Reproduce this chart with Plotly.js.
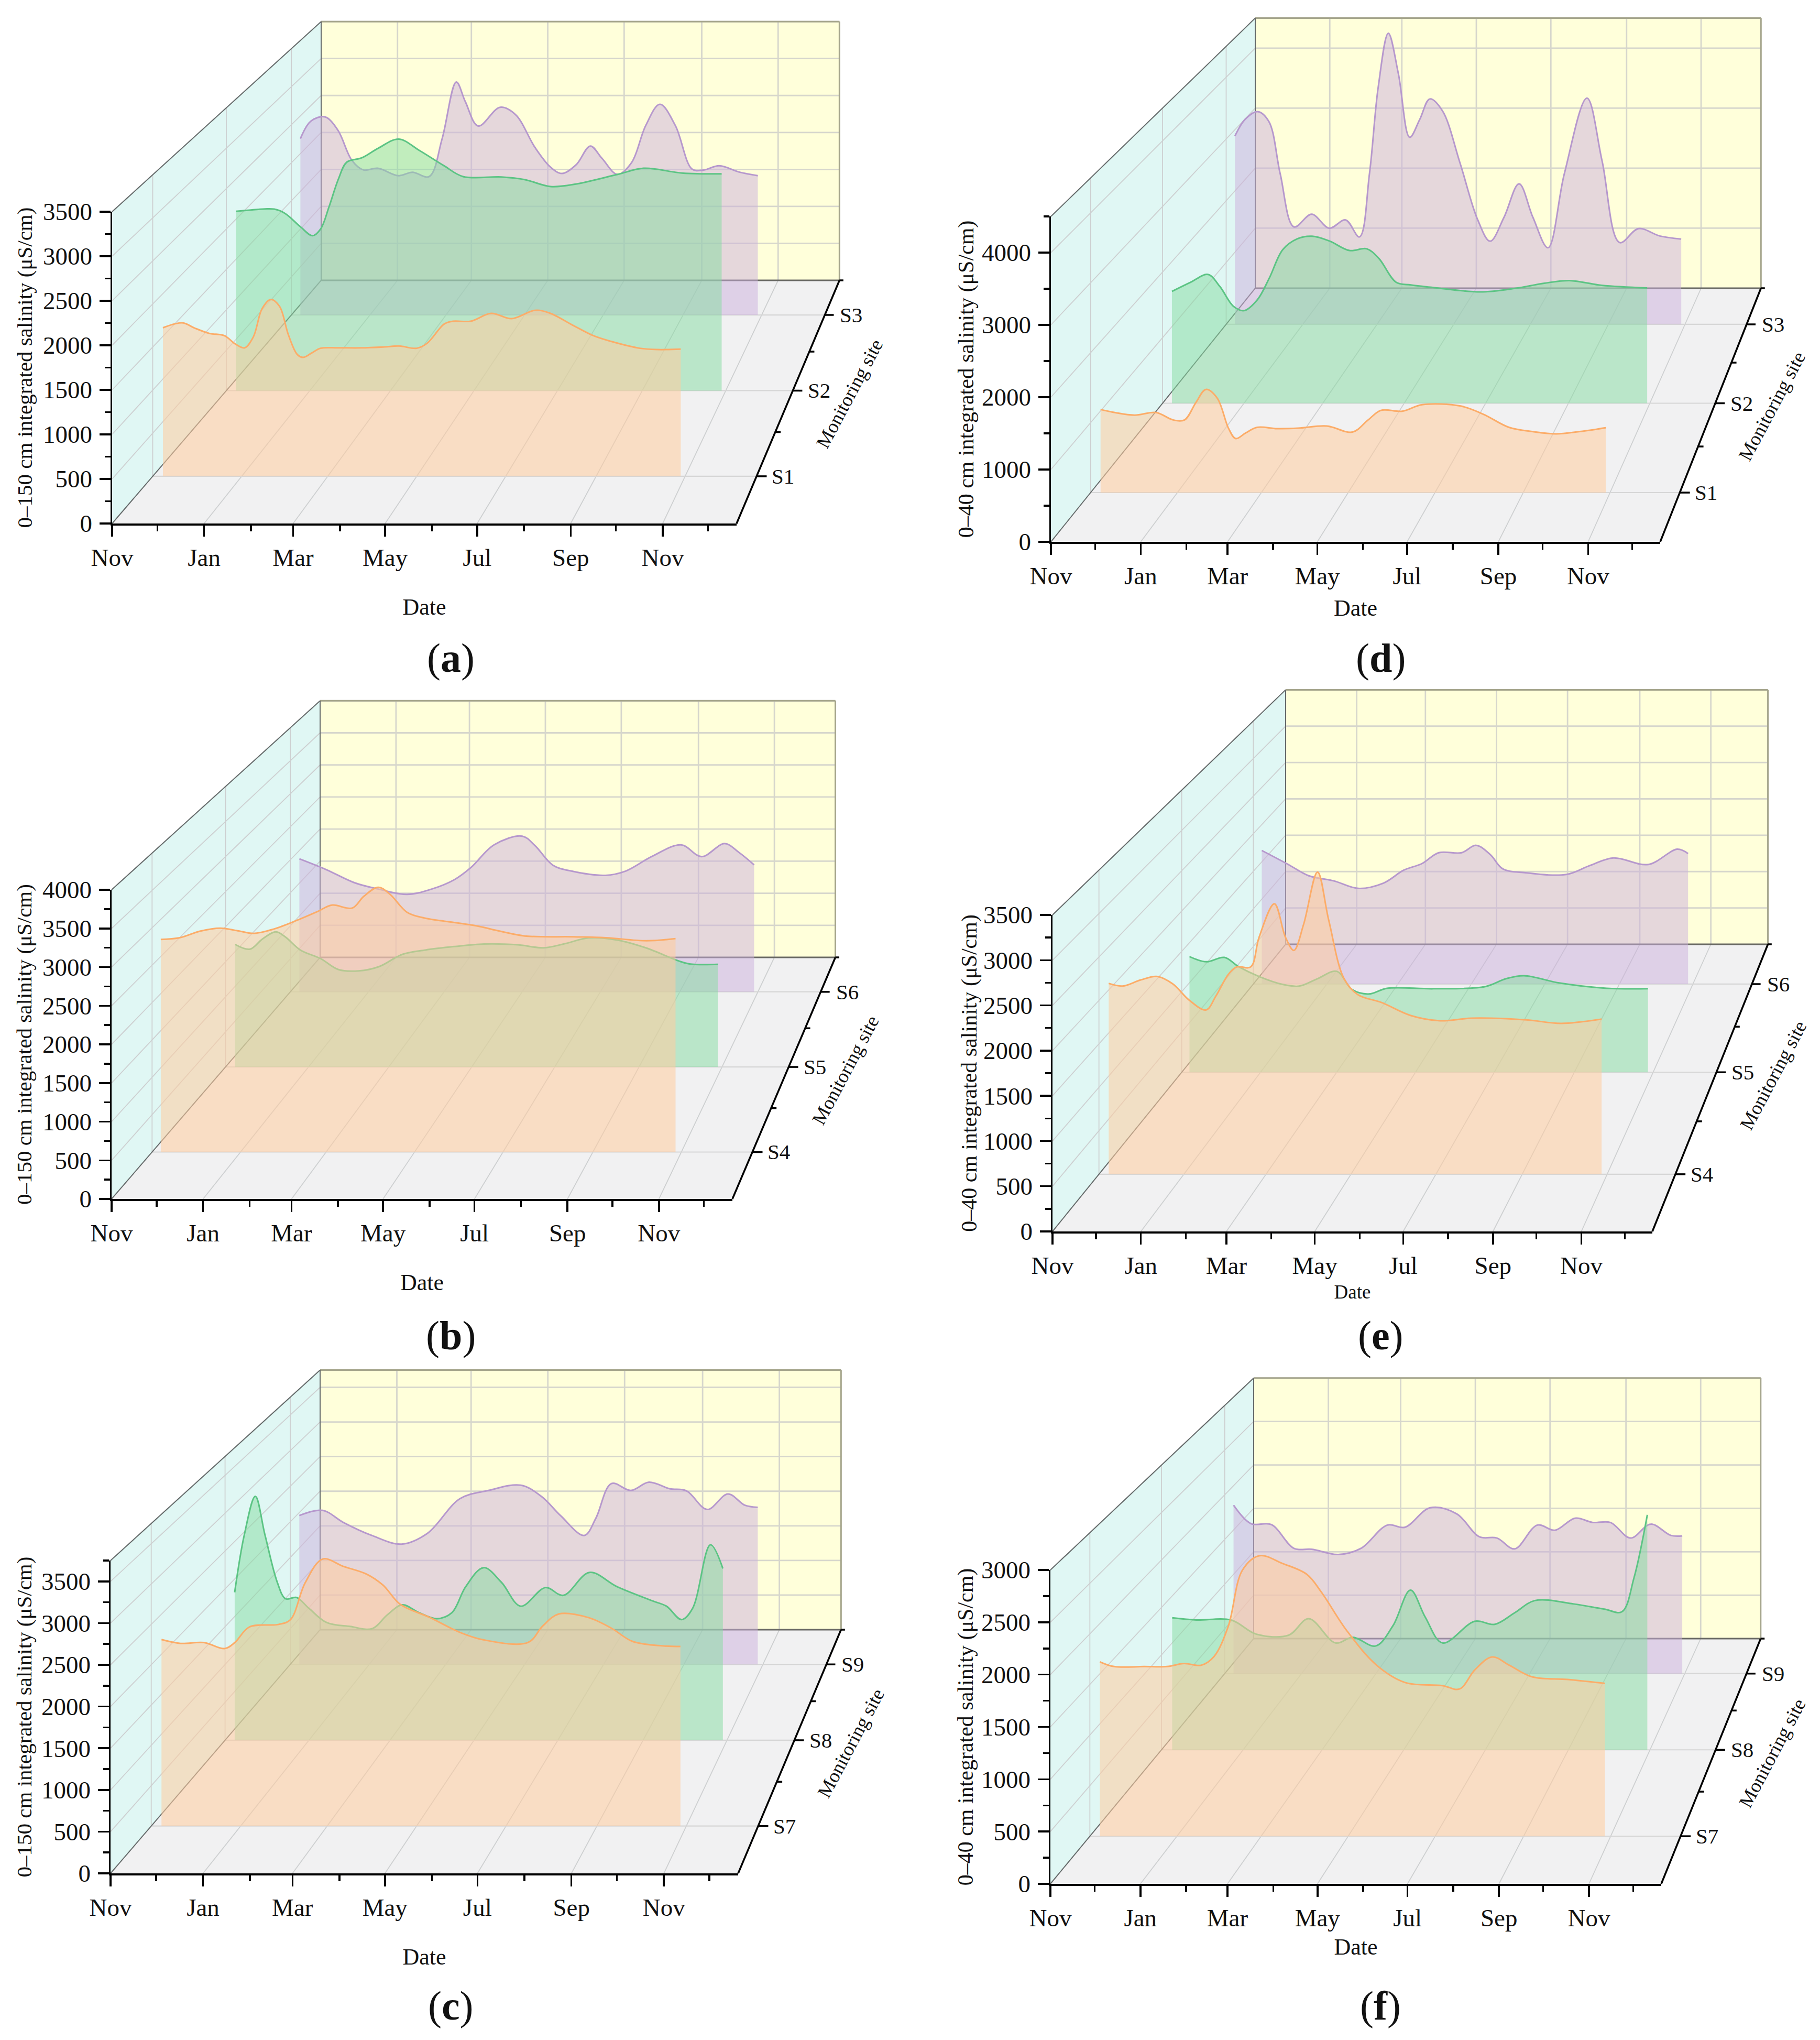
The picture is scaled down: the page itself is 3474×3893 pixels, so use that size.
<!DOCTYPE html>
<html><head><meta charset="utf-8"><script src="https://cdn.plot.ly/plotly-3.0.1.min.js"></script>
<style>html,body{margin:0;padding:0;background:#fff}</style></head><body><div id="chart"></div>
<script>
// ---------- chart data (days since the first November tick, salinity in uS/cm) ----------
const monthTickDays=[0,61,120,181,242,304,365];
const monthTickText=['Nov','Jan','Mar','May','Jul','Sep','Nov'];
const monthMinorDays=[30,92,151,212,273,334,395];

const a_S1_days=[7,15,21,29,39,49,57,63,69,75,81,87,93,99,103,109,115,127,143,159,169,181,188,200,206,218,232,246,262,272,288,302,314,334,346,362];
const a_S1_vals=[1724,1769,1780,1719,1658,1633,1532,1491,1618,1946,2053,1972,1643,1416,1380,1431,1486,1491,1491,1502,1512,1486,1542,1769,1800,1800,1891,1830,1926,1896,1754,1633,1567,1486,1471,1476];
const a_S2_days=[7,18,35,43,54,63,69,75,82,88,99,111,126,141,159,173,201,218,237,256,286,305,333,362];
const a_S2_vals=[2219,2235,2246,2192,2030,1917,2003,2272,2623,2827,2881,3000,3113,2973,2784,2649,2644,2612,2526,2558,2676,2752,2693,2682];
const a_S3_days=[7,15,26,36,47,56,67,83,94,107,117,128,135,145,162,174,189,201,210,221,232,241,253,264,275,286,298,311,320,332,348,362];
const a_S3_vals=[2317,2546,2603,2431,2031,1905,1928,1831,1876,1819,2317,3061,2803,2483,2729,2632,2203,1945,1859,1974,2220,2059,1848,2002,2489,2769,2489,1916,1905,1962,1876,1831];

const b_S4_days=[6,19,33,47,59,70,84,100,114,124,138,146,156,164,176,188,204,224,240,257,291,313,341,361];
const b_S4_vals=[2845,2868,2955,2996,2961,2926,2984,3101,3217,3304,3264,3421,3543,3450,3205,3130,3083,3025,2955,2891,2880,2868,2827,2856];
const b_S5_days=[7,18,27,37,44,55,70,83,98,113,130,147,168,190,215,234,250,267,288,309,333,341,362];
const b_S5_vals=[1748,1680,1823,1928,1854,1668,1544,1389,1370,1432,1606,1668,1717,1754,1742,1699,1761,1841,1810,1699,1513,1469,1463];
const b_S6_days=[7,28,50,69,91,110,128,141,159,181,191,205,219,246,262,282,305,321,339,350,362];
const b_S6_vals=[2014,1850,1652,1554,1475,1554,1698,1883,2225,2357,2212,1916,1830,1764,1830,2047,2225,2047,2245,2113,1922];

const c_S7_days=[7,20,36,50,57,67,87,95,105,117,131,147,158,170,190,211,227,257,267,278,298,314,328,346,361];
const c_S7_vals=[2312,2264,2275,2200,2275,2468,2500,2559,3015,3310,3219,3122,2988,2747,2586,2398,2307,2275,2479,2629,2586,2452,2291,2237,2226];
const c_S8_days=[7,14,22,29,38,44,52,61,74,91,107,118,129,141,154,165,175,188,201,215,233,246,265,285,311,321,332,340,353,362];
const c_S8_vals=[1954,2714,3223,2714,2086,1869,1886,1743,1554,1503,1474,1657,1789,1686,1606,1686,2029,2280,2086,1771,2017,1914,2217,2029,1840,1771,1594,1743,2583,2269];
const c_S9_days=[7,25,41,63,86,106,131,153,178,194,209,227,236,248,263,277,293,306,322,338,351,361];
const c_S9_vals=[2089,2161,1992,1809,1688,1840,2325,2441,2514,2356,2083,1809,2052,2538,2441,2556,2465,2435,2174,2392,2234,2204];

const d_S1_days=[7,17,31,46,58,66,74,81,89,97,102,109,117,131,146,166,184,195,204,219,233,260,276,294,311,327,343,362];
const d_S1_vals=[1189,1145,1108,1145,1039,1039,1288,1475,1350,915,772,853,933,915,921,952,865,1039,1176,1164,1257,1238,1120,933,871,840,871,927];
const d_S2_days=[7,21,34,43,53,61,71,80,90,101,112,125,140,153,162,175,186,203,238,264,286,305,329,363];
const d_S2_vals=[1704,1844,1963,1777,1479,1412,1578,1910,2341,2507,2546,2473,2328,2354,2208,1844,1804,1764,1698,1751,1830,1870,1797,1757];
const d_S3_days=[7,15,25,34,43,54,68,82,95,106,114,121,129,137,146,154,162,172,186,200,210,221,233,244,256,269,287,299,313,328,345,362];
const d_S3_vals=[3049,3317,3444,3282,2437,1577,1782,1556,1690,1415,2437,3845,4711,4056,3028,3317,3648,3458,2613,1697,1345,1732,2275,1732,1239,2437,3662,2648,1324,1549,1430,1380];

const e_S4_days=[7,17,30,42,53,65,77,84,93,99,109,115,126,134,140,147,157,165,176,186,203,224,245,268,307,332,361];
const e_S4_vals=[2196,2166,2236,2276,2191,2001,1891,2051,2301,2386,2386,2726,3112,2726,2576,2876,3477,2926,2251,2066,1976,1826,1766,1796,1776,1736,1786];
const e_S5_days=[6,19,33,44,60,78,91,105,120,132,145,159,195,235,251,265,293,329,361];
const e_S5_vals=[1435,1371,1425,1311,1187,1090,1069,1160,1252,1025,971,1042,1036,1063,1160,1198,1106,1042,1036];
const e_S6_days=[7,29,46,67,87,108,125,140,154,173,185,197,207,226,260,279,299,328,352,361];
const e_S6_vals=[1777,1591,1441,1372,1273,1343,1516,1603,1748,1748,1846,1719,1534,1481,1458,1574,1678,1591,1794,1736];

const f_S7_days=[7,17,38,54,66,78,87,97,107,119,135,152,162,180,201,221,247,259,270,282,294,310,335,361];
const f_S7_vals=[1724,1677,1677,1677,1707,1690,1776,2075,2632,2773,2696,2589,2418,2033,1690,1519,1489,1455,1647,1772,1690,1575,1549,1510];
const f_S8_days=[8,26,52,71,95,110,130,143,160,173,186,197,210,234,249,264,279,308,331,344,353,363];
const f_S8_vals=[1391,1368,1368,1218,1208,1382,1126,1186,1094,1309,1683,1400,1126,1354,1322,1445,1573,1537,1482,1455,1810,2476];
const f_S9_days=[7,21,37,55,69,90,108,129,143,163,184,202,216,230,248,262,278,292,306,322,338,354,363];
const f_S9_vals=[1884,1676,1666,1400,1390,1332,1400,1661,1637,1855,1787,1530,1516,1395,1661,1603,1738,1690,1690,1516,1671,1545,1540];

const panels=[
 {id:'a',sites:['S1','S2','S3'],series:[[a_S1_days,a_S1_vals],[a_S2_days,a_S2_vals],[a_S3_days,a_S3_vals]],ymax:3500,major:500,minor:250,ytitle:'0–150 cm integrated salinity (μS/cm)',
  ox:214,oy:999,xe:1406,yt:404,blx:613,bly:535,s:.83,capX:860,capY:1255,ds:54,ys:8,df:44,tf:41},
 {id:'b',sites:['S4','S5','S6'],series:[[b_S4_days,b_S4_vals],[b_S5_days,b_S5_vals],[b_S6_days,b_S6_vals]],ymax:4000,major:500,minor:250,ytitle:'0–150 cm integrated salinity (μS/cm)',
  ox:213,oy:2288,xe:1398,yt:1698,blx:611,bly:1827,s:.83,capX:860,capY:2548,ds:54,ys:8,df:44,tf:41},
 {id:'c',sites:['S7','S8','S9'],series:[[c_S7_days,c_S7_vals],[c_S8_days,c_S8_vals],[c_S9_days,c_S9_vals]],ymax:3750,major:500,minor:250,ytitle:'0–150 cm integrated salinity (μS/cm)',
  ox:211,oy:3575,xe:1409,yt:2978,blx:611,bly:3110,s:.83,capX:860,capY:3827,ds:54,ys:6,df:44,tf:41},
 {id:'d',sites:['S1','S2','S3'],series:[[d_S1_days,d_S1_vals],[d_S2_days,d_S2_vals],[d_S3_days,d_S3_vals]],ymax:4500,major:1000,minor:500,ytitle:'0–40 cm integrated salinity (μS/cm)',
  ox:2006,oy:1034,xe:3169,yt:413,blx:2396,bly:550,s:.83,capX:2635,capY:1255,ds:21,ys:3,df:44,tf:42},
 {id:'e',sites:['S4','S5','S6'],series:[[e_S4_days,e_S4_vals],[e_S5_days,e_S5_vals],[e_S6_days,e_S6_vals]],ymax:3500,major:500,minor:250,ytitle:'0–40 cm integrated salinity (μS/cm)',
  ox:2009,oy:2350,xe:3154,yt:1746,blx:2454,bly:1802,s:.804,capX:2635,capY:2548,ds:13,ys:0,df:37,tf:42},
 {id:'f',sites:['S7','S8','S9'],series:[[f_S7_days,f_S7_vals],[f_S8_days,f_S8_vals],[f_S9_days,f_S9_vals]],ymax:3000,major:500,minor:250,ytitle:'0–40 cm integrated salinity (μS/cm)',
  ox:2005,oy:3595,xe:3171,yt:2996,blx:2393,bly:3127,s:.83,capX:2635,capY:3827,ds:15,ys:3,df:44,tf:42}
];

// ---------- drawing ----------
const W=3474,H=3893,DAY_END=414,DEPTH=3,SERIF='"Liberation Serif","Times New Roman",serif';
const px=v=>v/W, py=v=>1-v/H;
const seriesStyle=[
 {line:'rgb(252,172,104)',fill:'rgba(255,204,158,0.55)'},
 {line:'rgb(92,196,132)',fill:'rgba(132,220,160,0.5)'},
 {line:'rgb(182,152,205)',fill:'rgba(204,176,220,0.5)'}];
const traces=[],frontTraces=[],annotations=[],layout={width:W,height:H,margin:{l:0,r:0,t:0,b:0},paper_bgcolor:'#fff',plot_bgcolor:'rgba(0,0,0,0)',showlegend:false,font:{family:SERIF,color:'#111'},annotations};

panels.forEach((p,i)=>{
  // box axes (hidden, wide, same scale as the front axes) carry the marks; front axes carry ticks and titles
  const n=i===0?'':String(i+1), xa='x'+n, ya='y'+n, fn=String(i+7), fxa='x'+fn, fya='y'+fn;
  const c=(1/p.s-1)/DEPTH;
  const scaleAt=d=>1/(1+c*d);
  const vpx=(p.blx-p.s*p.ox)/(1-p.s), vpy=(p.bly-p.s*p.oy)/(1-p.s);
  const Vd=(vpx-p.ox)/(p.xe-p.ox)*DAY_END, Vv=(p.oy-vpy)/(p.oy-p.yt)*p.ymax;
  const P=(day,val,d)=>{const k=scaleAt(d);return [Vd+(day-Vd)*k,Vv+(val-Vv)*k];};
  const toPx=(xy)=>[p.ox+xy[0]/DAY_END*(p.xe-p.ox),p.oy-xy[1]/p.ymax*(p.oy-p.yt)];
  const base={xaxis:xa,yaxis:ya,hoverinfo:'skip',showlegend:false};
  const poly=(pts,fill)=>traces.push({...base,type:'scatter',mode:'none',x:pts.map(q=>q[0]),y:pts.map(q=>q[1]),fill:'toself',fillcolor:fill});
  const segs=(list,color,width)=>{const x=[],y=[];list.forEach(s=>{x.push(s[0][0],s[1][0],null);y.push(s[0][1],s[1][1],null);});
    traces.push({...base,type:'scatter',mode:'lines',x,y,line:{color,width}});};
  poly([P(0,0,DEPTH),P(DAY_END,0,DEPTH),P(DAY_END,p.ymax,DEPTH),P(0,p.ymax,DEPTH)],'rgb(255,255,218)');
  poly([P(0,0,0),P(0,0,DEPTH),P(0,p.ymax,DEPTH),P(0,p.ymax,0)],'rgb(224,247,244)');
  poly([P(0,0,0),P(DAY_END,0,0),P(DAY_END,0,DEPTH),P(0,0,DEPTH)],'rgb(241,241,242)');
  const yMajor=[];for(let v=p.major;v<=p.ymax;v+=p.major)yMajor.push(v);
  const siteDepths=p.sites.map((_,k)=>k+0.5);
  const thin=[],wall=[],floorSite=[];
  monthTickDays.forEach(t=>{if(t>0){wall.push([P(t,0,DEPTH),P(t,p.ymax,DEPTH)]);thin.push([P(t,0,0),P(t,0,DEPTH)]);}});
  yMajor.forEach(v=>{wall.push([P(0,v,DEPTH),P(DAY_END,v,DEPTH)]);thin.push([P(0,v,0),P(0,v,DEPTH)]);});
  siteDepths.forEach(d=>{thin.push([P(0,0,d),P(0,p.ymax,d)]);floorSite.push([P(0,0,d),P(DAY_END,0,d)]);});
  segs(thin,'rgb(205,207,208)',1.8);
  segs(floorSite,'rgb(214,214,214)',2.2);
  segs(wall,'rgb(214,214,204)',2.8);
  segs([[P(0,p.ymax,DEPTH),P(DAY_END,p.ymax,DEPTH)],[P(DAY_END,0,DEPTH),P(DAY_END,p.ymax,DEPTH)]],'rgb(165,165,140)',3);
  segs([[P(0,0,DEPTH),P(DAY_END,0,DEPTH)]],'rgb(105,105,100)',3);
  segs([[P(0,0,0),P(0,0,DEPTH)],[P(0,p.ymax,0),P(0,p.ymax,DEPTH)],[P(0,0,DEPTH),P(0,p.ymax,DEPTH)]],'rgb(100,105,105)',2);
  [2,1,0].forEach(k=>{
    const d=siteDepths[k],days=p.series[k][0],vals=p.series[k][1],pts=days.map((t,j)=>P(t,vals[j],d));
    const b0=P(days[0],0,d),b1=P(days[days.length-1],0,d);
    traces.push({...base,type:'scatter',mode:'lines',x:[b0[0],b1[0]],y:[b0[1],b1[1]],line:{width:0,color:'rgba(0,0,0,0)'},name:p.sites[k]+' base'});
    traces.push({...base,type:'scatter',mode:'lines',name:p.sites[k],x:pts.map(q=>q[0]),y:pts.map(q=>q[1]),
      line:{color:seriesStyle[k].line,width:3,shape:'spline',smoothing:1},fill:'tonexty',fillcolor:seriesStyle[k].fill});
  });
  const right=DAY_END, dayPx=DAY_END/(p.xe-p.ox);
  const axisSegs=[[P(right,0,0),P(right,0,DEPTH)],[P(right,0,DEPTH),P(right+dayPx*9,0,DEPTH)]];
  siteDepths.forEach(d=>axisSegs.push([P(right,0,d),P(right+dayPx*20,0,d)]));
  [1,2].forEach(d=>axisSegs.push([P(right,0,d),P(right+dayPx*11,0,d)]));
  segs(axisSegs,'#000',3.5);
  siteDepths.forEach((d,k)=>{const q=toPx(P(right,0,d));
    annotations.push({xref:'paper',yref:'paper',x:px(q[0]+27),y:py(q[1]),text:p.sites[k],showarrow:false,xanchor:'left',yanchor:'middle',font:{family:SERIF,size:41,color:'#111'}});});
  const mid=toPx(P(right,0,1.5));
  annotations.push({xref:'paper',yref:'paper',x:px(mid[0]+108),y:py(mid[1]+6),text:'Monitoring site',showarrow:false,textangle:-62,xanchor:'center',yanchor:'middle',font:{family:SERIF,size:37,color:'#111'}});
  annotations.push({xref:'paper',yref:'paper',x:px(p.capX),y:py(p.capY),text:'(<b>'+p.id+'</b>)',showarrow:false,xanchor:'center',yanchor:'middle',font:{family:SERIF,size:78,color:'#111'}});
  // hidden box axes
  const pad=14, boxLeft=p.ox-pad, boxRight=p.blx+p.s*(p.xe-p.ox)+70, boxTop=p.oy-(p.oy-p.bly)-(p.oy-p.yt)*p.s-pad, boxBottom=p.oy+pad;
  const dayOf=v=>(v-p.ox)/(p.xe-p.ox)*DAY_END, valOf=v=>(p.oy-v)/(p.oy-p.yt)*p.ymax;
  layout['xaxis'+n]={visible:false,domain:[px(boxLeft),px(boxRight)],anchor:ya,range:[dayOf(boxLeft),dayOf(boxRight)]};
  layout['yaxis'+n]={visible:false,domain:[py(boxBottom),py(boxTop)],anchor:xa,range:[valOf(boxBottom),valOf(boxTop)]};
  // visible front axes
  frontTraces.push({xaxis:fxa,yaxis:fya,type:'scatter',mode:'lines',x:[0,DAY_END],y:[0,p.ymax],line:{width:0,color:'rgba(0,0,0,0)'},hoverinfo:'skip',showlegend:false});
  const lineStyle={showline:true,linecolor:'#000',linewidth:3.5,ticks:'outside',tickcolor:'#000',tickwidth:3.5,ticklen:21,showgrid:false,zeroline:false,tickfont:{family:SERIF,size:47,color:'#111'}};
  layout['xaxis'+fn]={...lineStyle,ticklabelstandoff:0,domain:[px(p.ox),px(p.xe)],anchor:fya,range:[0,DAY_END],tickmode:'array',tickvals:monthTickDays,ticktext:monthTickText,
    minor:{tickmode:'array',tickvals:monthMinorDays,ticks:'outside',ticklen:11,tickwidth:3.5,tickcolor:'#000',showgrid:false},
    title:{text:'Date',standoff:p.ds,font:{family:SERIF,size:p.df,color:'#111'}}};
  layout['yaxis'+fn]={...lineStyle,ticklabelstandoff:4,domain:[py(p.oy),py(p.yt)],anchor:fxa,range:[0,p.ymax],dtick:p.major,tick0:0,
    minor:{dtick:p.minor,tick0:0,ticks:'outside',ticklen:11,tickwidth:3.5,tickcolor:'#000',showgrid:false},
    title:{text:p.ytitle,standoff:p.ys,font:{family:SERIF,size:p.tf,color:'#111'}}};
});
Plotly.newPlot('chart',traces.concat(frontTraces),layout,{staticPlot:true,displayModeBar:false});
</script></body></html>
